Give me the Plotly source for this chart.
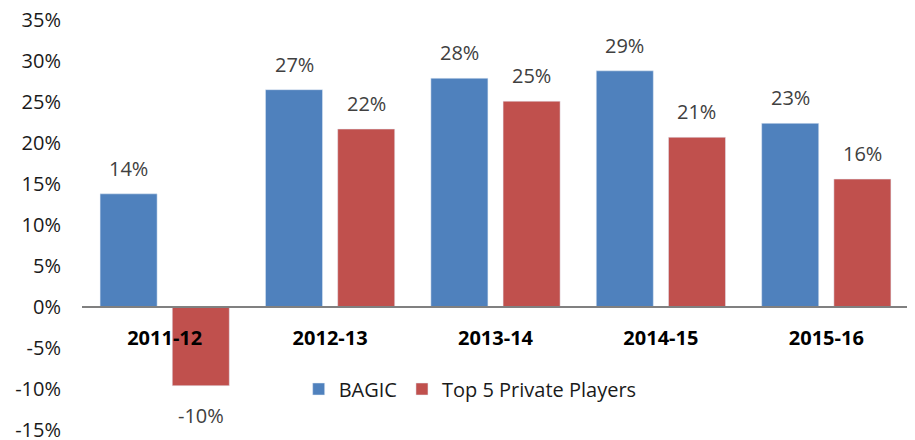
import plotly.graph_objects as go

YEARS = ["2011-12", "2012-13", "2013-14", "2014-15", "2015-16"]
BAGIC = [13.8, 26.5, 27.9, 28.8, 22.4]
TOP5 = [-9.6, 21.7, 25.1, 20.7, 15.6]
BAGIC_LABELS = ["14%", "27%", "28%", "29%", "23%"]
TOP5_LABELS = ["-10%", "22%", "25%", "21%", "16%"]
Y_TICKS = list(range(-15, 40, 5))

BLUE = "#4F81BD"
RED = "#C0504D"
FONT = "Open Sans, Arial, sans-serif"


def build_chart():
    fig = go.Figure()
    fig.add_bar(x=YEARS, y=BAGIC, name="BAGIC", marker_color=BLUE)
    fig.add_bar(x=YEARS, y=TOP5, name="Top 5 Private Players", marker_color=RED)

    # data labels, offset above/below each bar
    for shift, values, labels in ((-36, BAGIC, BAGIC_LABELS), (36, TOP5, TOP5_LABELS)):
        for cat, val, lab in zip(YEARS, values, labels):
            neg = val < 0
            fig.add_annotation(
                x=cat, y=val, text=lab, showarrow=False,
                xshift=shift, yshift=-14 if neg else 10,
                yanchor="top" if neg else "bottom",
                font={"family": FONT, "size": 20, "color": "#404040"},
            )

    # page body adds an 8px margin, so the figure is 8px smaller each way
    fig.update_layout(
        width=907, height=432,
        barmode="group", bargap=0.127, bargroupgap=0.21,
        plot_bgcolor="white", paper_bgcolor="white",
        margin={"l": 74, "r": 6, "t": 12, "b": 10},
        font={"family": FONT, "size": 20, "color": "#1a1a1a"},
        legend={
            "orientation": "h", "x": 0.262, "y": 0.1,
            "xanchor": "left", "yanchor": "middle",
            "font": {"size": 20, "color": "#1a1a1a"},
            "bgcolor": "rgba(0,0,0,0)",
        },
        showlegend=True,
    )
    fig.update_xaxes(
        type="category",
        anchor="free", position=0.3, automargin=False,
        showline=True, linecolor="#808080", linewidth=2,
        showgrid=False, ticks="", ticklabelstandoff=13,
        tickfont={"family": FONT, "size": 20, "color": "#000000", "weight": "bold"},
    )
    fig.update_yaxes(
        range=[-15, 35], tickvals=Y_TICKS,
        ticktext=[f"{v}%" for v in Y_TICKS],
        showgrid=False, zeroline=False, showline=False, automargin=False,
        ticks="", ticklabelstandoff=20, ticklabeloverflow="allow",
        tickfont={"family": FONT, "size": 20, "color": "#1a1a1a"},
    )
    return fig


fig = build_chart()
fig.write_html("out.html")
